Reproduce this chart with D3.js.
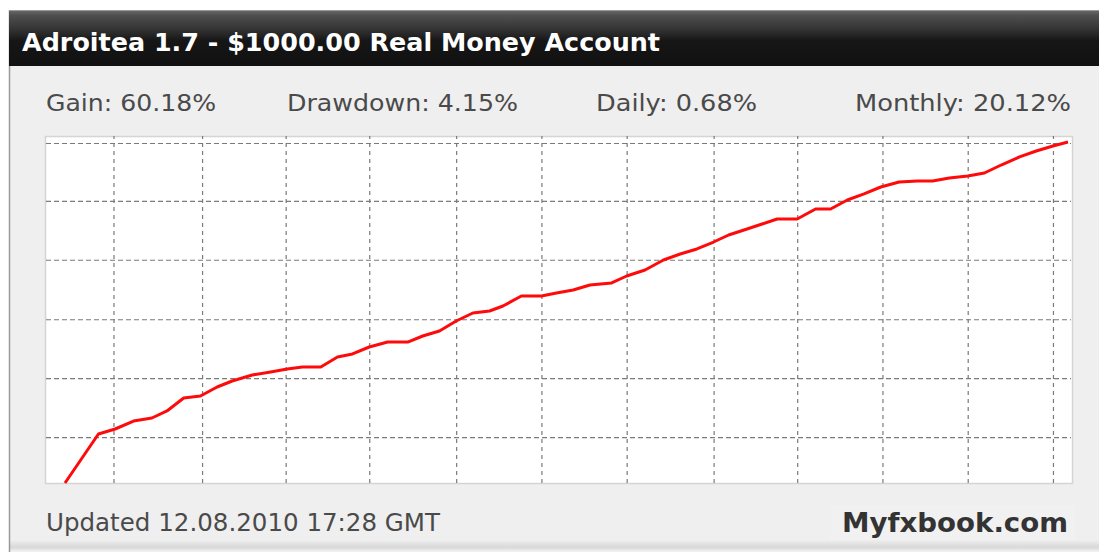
<!DOCTYPE html>
<html><head><meta charset="utf-8">
<script src="https://cdn.jsdelivr.net/npm/d3@7"></script>
<style>html,body{margin:0;padding:0;background:#fff;}svg{display:block;}</style>
</head><body>
<svg id="c" width="1099" height="552"></svg>
<script>
const title = "Adroitea 1.7 - $1000.00 Real Money Account";
const statLabels = ["Gain: 60.18%", "Drawdown: 4.15%", "Daily: 0.68%", "Monthly: 20.12%"];
const footerLeft = "Updated 12.08.2010 17:28 GMT";
const footerRight = "Myfxbook.com";

// time (days from start) and gain (%)
const days = [0,2.0,3.0,4.1,5.2,6.1,7.1,8.1,9.1,10.0,11.2,12.3,13.3,14.2,15.3,16.3,17.2,18.2,19.3,20.5,
  21.4,22.4,23.4,24.4,25.4,26.2,27.3,28.5,29.4,30.4,31.4,32.7,33.6,34.7,35.8,36.8,37.8,38.8,39.7,40.8,
  41.7,42.6,43.8,44.9,45.8,46.8,47.8,48.8,49.9,51.0,51.9,52.9,54.0,55.0,56.0,57.1,58.1,59.1,60.0];
const gain = [0,8.65,9.53,10.94,11.47,12.71,15.00,15.35,16.94,18.00,19.06,19.59,20.12,20.47,20.47,22.24,22.77,24.00,24.88,24.88,
  25.94,26.83,28.59,30.00,30.36,31.24,33.00,33.00,33.53,34.06,34.95,35.30,36.53,37.59,39.36,40.42,41.30,42.53,43.77,44.83,
  45.71,46.59,46.59,48.36,48.36,49.95,51.01,52.24,53.12,53.30,53.30,53.83,54.18,54.71,56.12,57.54,58.59,59.48,60.18];
const xGrid = [2.9,8.2,13.2,18.2,23.4,28.5,33.6,38.8,43.8,48.9,54.0,59.1];
const yGrid = [8.1,18.5,28.9,39.4,49.8,60.0];

const svg = d3.select("#c");
const defs = svg.append("defs");
const hg = defs.append("linearGradient").attr("id","hdr").attr("x1",0).attr("y1",0).attr("x2",0).attr("y2",1);
hg.append("stop").attr("offset","0%").attr("stop-color","#6a6a6a");
hg.append("stop").attr("offset","10%").attr("stop-color","#4e4e4e");
hg.append("stop").attr("offset","35%").attr("stop-color","#333");
hg.append("stop").attr("offset","55%").attr("stop-color","#161616");
hg.append("stop").attr("offset","100%").attr("stop-color","#111");
const bg = defs.append("linearGradient").attr("id","bot").attr("x1",0).attr("y1",0).attr("x2",0).attr("y2",1);
bg.append("stop").attr("offset","0%").attr("stop-color","#efefef");
bg.append("stop").attr("offset","60%").attr("stop-color","#d8d8d8");
bg.append("stop").attr("offset","100%").attr("stop-color","#f4f4f4");

// panel
svg.append("rect").attr("x",9).attr("y",10).attr("width",1090).attr("height",542).attr("fill","#efefef");
svg.append("rect").attr("x",9).attr("y",540).attr("width",1090).attr("height",12).attr("fill","url(#bot)");
svg.append("line").attr("x1",9.5).attr("x2",9.5).attr("y1",10).attr("y2",552).attr("stroke","#9a9a9a").attr("stroke-width",1.5);
// header
svg.append("rect").attr("x",9).attr("y",10).attr("width",1090).attr("height",56).attr("fill","url(#hdr)");
svg.append("line").attr("x1",9).attr("x2",1099).attr("y1",10.5).attr("y2",10.5).attr("stroke","#999");
svg.append("text").attr("x",22).attr("y",51).text(title)
  .attr("fill","#fff").attr("font-family","DejaVu Sans").attr("font-weight","bold").attr("font-size",25)
  .attr("textLength",638).attr("lengthAdjust","spacingAndGlyphs");

// stats
const statPos = [[46,170],[287,231],[596,161],[855,216]];
svg.selectAll("text.stat").data(statLabels).join("text").attr("class","stat")
  .attr("x",(d,i)=>statPos[i][0]).attr("y",111).text(d=>d)
  .attr("fill","#4a4a4a").attr("font-family","DejaVu Sans").attr("font-size",23.5)
  .attr("textLength",(d,i)=>statPos[i][1]).attr("lengthAdjust","spacingAndGlyphs");

// plot
const L=45,R=1072,T=136,B=483;
svg.append("rect").attr("x",L+0.5).attr("y",T+0.5).attr("width",R-L).attr("height",B-T)
  .attr("fill","#fff").attr("stroke","#d4d4d4").attr("stroke-width",1.5);

const x = d3.scaleLinear().domain([0,60]).range([65,1068]);
const y = d3.scaleLinear().domain([0,60.18]).range([483,142]);

const gridX = d3.axisBottom(x).tickValues(xGrid).tickSize(-(B-T)).tickFormat("");
const gx = svg.append("g").attr("transform",`translate(0,${B})`).call(gridX);
gx.select(".domain").remove();
gx.selectAll("line").attr("stroke","#7a7a7a").attr("stroke-dasharray","4,4").attr("stroke-width",1.2);

const gridY = d3.axisLeft(y).tickValues(yGrid).tickSize(-(R-L-2)).tickFormat("");
const gy = svg.append("g").attr("transform",`translate(${L+1},0)`).call(gridY);
gy.select(".domain").remove();
gy.selectAll("line").attr("stroke","#7a7a7a").attr("stroke-dasharray","5,3").attr("stroke-width",1.2);

const pts = days.map((d,i)=>[d,gain[i]]);
svg.append("path").datum(pts)
  .attr("d", d3.line().x(d=>x(d[0])).y(d=>y(d[1])))
  .attr("fill","none").attr("stroke","#ff0a0a").attr("stroke-width",3).attr("stroke-linejoin","round");

// footer
svg.append("rect").attr("x",830).attr("y",505).attr("width",245).attr("height",35).attr("fill","#f1f1f1");
svg.append("text").attr("x",46).attr("y",531).text(footerLeft)
  .attr("fill","#4a4a4a").attr("font-family","DejaVu Sans").attr("font-size",24)
  .attr("textLength",394).attr("lengthAdjust","spacingAndGlyphs");
svg.append("text").attr("x",842).attr("y",532).text(footerRight)
  .attr("fill","#333").attr("font-family","DejaVu Sans").attr("font-weight","bold").attr("font-size",27)
  .attr("textLength",226).attr("lengthAdjust","spacingAndGlyphs");
</script>
</body></html>
